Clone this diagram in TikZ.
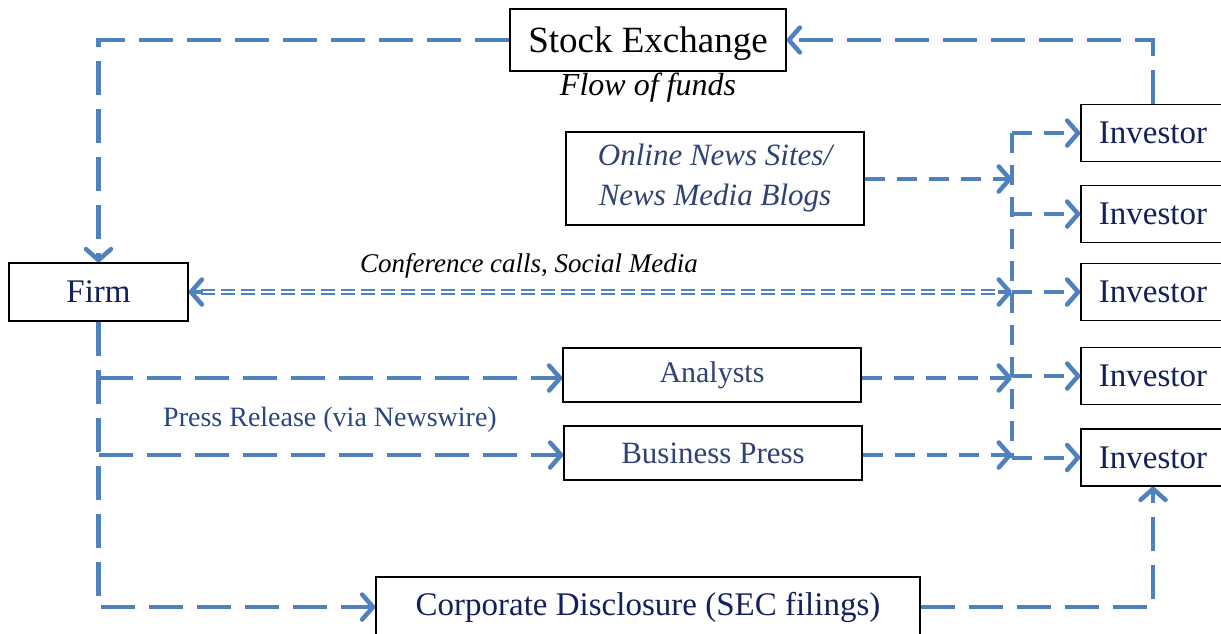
\documentclass[tikz,border=0pt]{standalone}
\usepackage{fontspec}
\setmainfont{Liberation Serif}
\usetikzlibrary{arrows.meta,calc}
\definecolor{lblue}{RGB}{79,129,189}
\definecolor{navy}{RGB}{18,32,92}
\definecolor{slate}{RGB}{48,66,115}
\definecolor{pblue}{RGB}{40,70,130}
\tikzset{
  box/.style={draw=black, line width=1.3pt, inner sep=0pt, align=center},
  mainline/.style={draw=lblue, line width=4.5pt, dash pattern=on 34pt off 14pt},
  busline/.style={draw=lblue, line width=4pt, dash pattern=on 20pt off 12pt},
  dblline/.style={draw=lblue, line width=2pt, double=white, double distance=2pt, dash pattern=on 14pt off 6pt},
  tip/.tip={Straight Barb[length=11pt,width=25pt,line width=4.5pt,round]},
  fs/.style={font=\fontsize{#1}{#1}\selectfont}
}
\begin{document}
\begin{tikzpicture}[x=1pt,y=-1pt]
\useasboundingbox (0,0) rectangle (1221,633);
\clip (0,0) rectangle (1221,633);
% nodes
\node[box, minimum width=276pt, minimum height=62pt, fs=37, text height=25pt, text depth=0pt] (se) at (648,40) {Stock Exchange};
\node[font=\fontsize{32}{32}\selectfont\itshape] (flow) at (648,88) {Flow of funds};
\node[box, minimum width=298pt, minimum height=93pt, font=\fontsize{31}{40}\selectfont\itshape, text=slate] (online) at (715,178.5) {Online News Sites/\\News Media Blogs};
\node[box, minimum width=179pt, minimum height=58pt, fs=33, text=navy] (firm) at (98.5,292) {Firm};
\node[box, minimum width=298pt, minimum height=54pt, fs=30, text=slate] (analysts) at (712,375) {Analysts};
\node[box, minimum width=298pt, minimum height=54pt, fs=31, text=slate] (press) at (713,453) {Business Press};
\node[box, minimum width=544pt, minimum height=60pt, fs=33, text=navy] (corp) at (648,607) {Corporate Disclosure (SEC filings)};
\foreach \i/\y in {1/133,2/214,3/292,4/376,5/457.5}{
  \node[box, minimum width=144pt, minimum height=57pt, fs=33, text=navy] (inv\i) at (1153,\y) {Investor};
}
\node[font=\fontsize{27}{27}\selectfont\itshape] (conf) at (529,266) {Conference calls, Social Media};
\node[fs=28, text=pblue] (prl) at (330,420) {Press Release (via Newswire)};
% bus coordinates
\coordinate (bt) at (1012,133);
\coordinate (bb) at (1012,457.5);
\coordinate (b2) at (1012,179);
\coordinate (b3) at (1012,292);
\coordinate (b4) at (1012,378);
\coordinate (b5) at (1012,455);
% main connectors
\draw[mainline, -tip] (se.west) -| (firm.north);
\draw[mainline, -tip] (inv1.north) |- (se.east);
\draw[mainline, -tip] (firm.south) |- (corp.west);
\draw[mainline, -tip] (firm.south |- 0,378) -- (analysts.west |- 0,378);
\draw[mainline, -tip] (firm.south |- 0,455) -- (press.west |- 0,455);
\draw[mainline, -tip] (corp.east) -| (inv5.south);
% double line
\draw[dblline] ($(firm.east)+(12,0)$) -- ($(b3)+(-12,0)$);
\draw[draw=lblue, line width=4pt, tip-] (firm.east) -- ++(14,0);
\draw[draw=lblue, line width=4pt, -tip] ($(b3)+(-14,0)$) -- (b3);
% feeders into bus
\draw[busline, -tip] (online.east |- b2) -- (b2);
\draw[busline, -tip] (analysts.east |- b4) -- (b4);
\draw[busline, -tip] (press.east |- b5) -- (b5);
% bus
\draw[busline] (bt) -- (bb);
\draw[busline, -tip] (bt) -- (inv1.west);
\draw[busline, -tip] (bt |- inv2.west) -- (inv2.west);
\draw[busline, -tip] (bt |- inv3.west) -- (inv3.west);
\draw[busline, -tip] (bt |- inv4.west) -- (inv4.west);
\draw[busline, -tip] (bb) -- (inv5.west);
\end{tikzpicture}
\end{document}
